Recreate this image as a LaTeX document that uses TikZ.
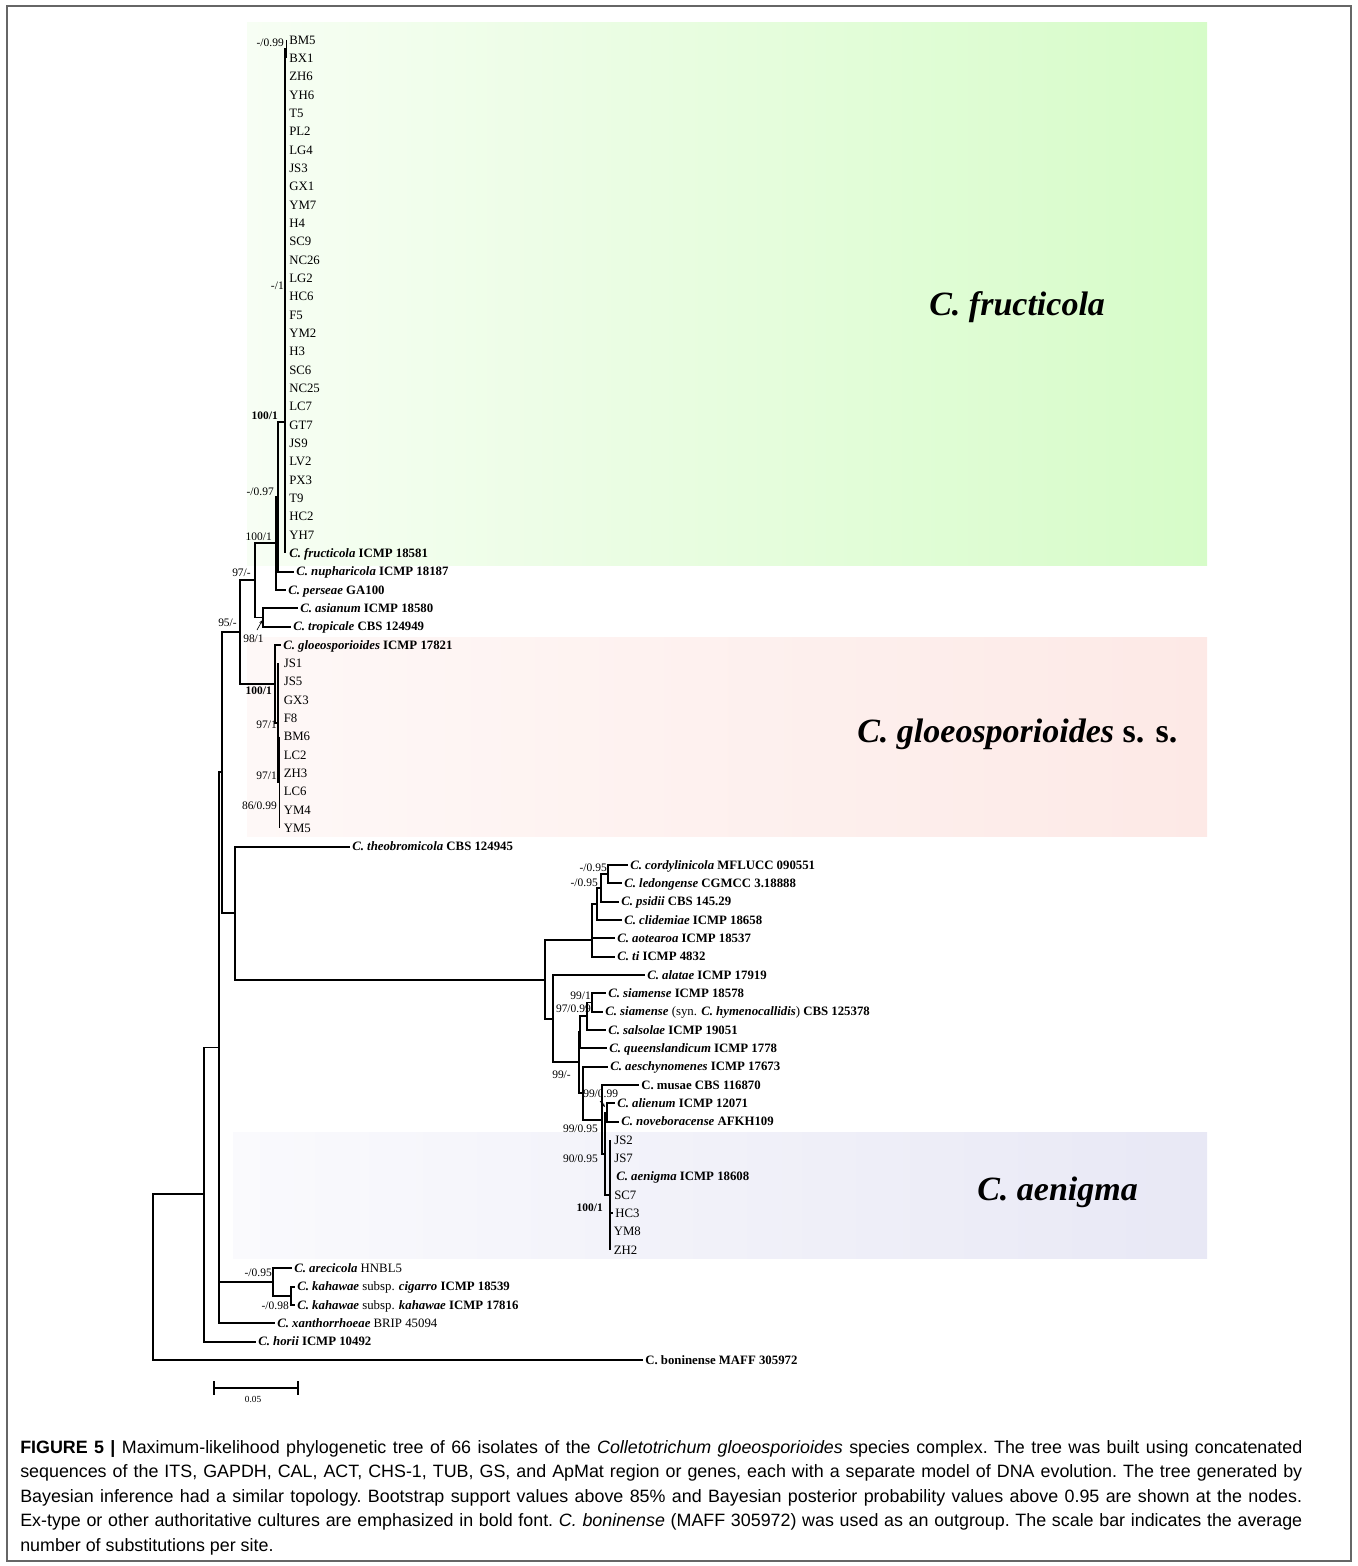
\documentclass[tikz,border=0pt]{standalone}
\usepackage{fontspec}
\setmainfont{Liberation Serif}
\newfontfamily\capfont[FakeStretch=1.0]{Liberation Sans}
\usetikzlibrary{arrows.meta}
\newcommand\bi[1]{\textbf{\textit{#1}}}
\definecolor{gL}{RGB}{247,254,244}
\definecolor{gR}{RGB}{214,252,200}
\definecolor{pL}{RGB}{254,248,247}
\definecolor{pR}{RGB}{253,233,230}
\definecolor{vL}{RGB}{250,250,253}
\definecolor{vR}{RGB}{232,232,245}
\begin{document}
\begin{tikzpicture}[x=0.75pt,y=-0.75pt,
  br/.style={line width=1.25pt, line join=miter},
  leaf/.style={anchor=west, inner xsep=1.5pt, inner ysep=0pt, text height=6.4pt, text depth=0pt, font=\fontsize{9.6}{11}\selectfont},
  lab/.style={anchor=east, inner sep=0pt, text height=6pt, text depth=0pt, font=\fontsize{8.6}{10}\selectfont},
  big/.style={anchor=base west, inner sep=0pt, font=\fontsize{25.5}{30}\selectfont},
  arr/.style={-{Stealth[length=3pt,width=2.5pt]}, line width=0.5pt}]
\useasboundingbox (0,0) rectangle (1357,1566);
\draw[black!60, line width=0.8pt] (7,6) rectangle (1351,1561);

% clade boxes
\shade[left color=gL, right color=gR] (247,23) rectangle (1207,565);
\shade[left color=pL, right color=pR] (247,637) rectangle (1207,836);
\shade[left color=vL, right color=vR] (233,1132) rectangle (1207,1258);

\node[big] (Lfr) at (929,315) {\bi{C. fructicola}};
\node[big] (Lgl) at (857,742) {\bi{C. gloeosporioides} \textbf{s. s.}};
\node[big] (Lae) at (977,1200) {\bi{C. aenigma}};

% ---------- leaves ----------
\foreach \n [count=\i from 0] in {BM5,BX1,ZH6,YH6,T5,PL2,LG4,JS3,GX1,YM7,H4,SC9,NC26,LG2,HC6,F5,YM2,H3,SC6,NC25,LC7,GT7,JS9,LV2,PX3,T9,HC2,YH7}
  \node[leaf] (f\i) at (287,{40+18.333*\i}) {\n};
\node[leaf] (fr) at (287,553.3) {\bi{C. fructicola} \textbf{ICMP 18581}};
\node[leaf] (nu) at (294,571.7) {\bi{C. nupharicola} \textbf{ICMP 18187}};
\node[leaf] (pe) at (286,590) {\bi{C. perseae} \textbf{GA100}};
\node[leaf] (as) at (298,608.3) {\bi{C. asianum} \textbf{ICMP 18580}};
\node[leaf] (tr) at (291,626.7) {\bi{C. tropicale} \textbf{CBS 124949}};
\node[leaf] (gl) at (281,645) {\bi{C. gloeosporioides} \textbf{ICMP 17821}};
\foreach \n [count=\i from 0] in {JS1,JS5,GX3,F8,BM6,LC2,ZH3,LC6,YM4,YM5}
  \node[leaf] (g\i) at (281.5,{663.3+18.333*\i}) {\n};
\node[leaf] (th) at (350,846.7) {\bi{C. theobromicola} \textbf{CBS 124945}};
\node[leaf] (cord) at (628,865) {\bi{C. cordylinicola} \textbf{MFLUCC 090551}};
\node[leaf] (led) at (622,883.3) {\bi{C. ledongense} \textbf{CGMCC 3.18888}};
\node[leaf] (psi) at (619,901.7) {\bi{C. psidii} \textbf{CBS 145.29}};
\node[leaf] (cli) at (622,920) {\bi{C. clidemiae} \textbf{ICMP 18658}};
\node[leaf] (aot) at (615,938.3) {\bi{C. aotearoa} \textbf{ICMP 18537}};
\node[leaf] (ti) at (615,956.7) {\bi{C. ti} \textbf{ICMP 4832}};
\node[leaf] (ala) at (645,975) {\bi{C. alatae} \textbf{ICMP 17919}};
\node[leaf] (si1) at (606,993.3) {\bi{C. siamense} \textbf{ICMP 18578}};
\node[leaf] (si2) at (603,1011.7) {\bi{C. siamense} (syn. \bi{C. hymenocallidis}) \textbf{CBS 125378}};
\node[leaf] (sal) at (606,1030) {\bi{C. salsolae} \textbf{ICMP 19051}};
\node[leaf] (que) at (607,1048.3) {\bi{C. queenslandicum} \textbf{ICMP 1778}};
\node[leaf] (aes) at (608,1066.7) {\bi{C. aeschynomenes} \textbf{ICMP 17673}};
\node[leaf] (mus) at (639,1085) {\textbf{C. musae CBS 116870}};
\node[leaf] (ali) at (615,1103.3) {\bi{C. alienum} \textbf{ICMP 12071}};
\node[leaf] (nov) at (619,1121.7) {\bi{C. noveboracense} \textbf{AFKH109}};
\node[leaf] (e0) at (612,1140) {JS2};
\node[leaf] (e1) at (612,1158.3) {JS7};
\node[leaf] (e2) at (614,1176.7) {\bi{C. aenigma} \textbf{ICMP 18608}};
\node[leaf] (e3) at (612,1195) {SC7};
\node[leaf] (e4) at (613,1213.3) {HC3};
\node[leaf] (e5) at (611.5,1231.7) {YM8};
\node[leaf] (e6) at (611.5,1250) {ZH2};
\node[leaf] (are) at (292,1268.3) {\bi{C. arecicola} HNBL5};
\node[leaf] (kc) at (295,1286.7) {\bi{C. kahawae} subsp. \bi{cigarro} \textbf{ICMP 18539}};
\node[leaf] (kk) at (295,1305) {\bi{C. kahawae} subsp. \bi{kahawae} \textbf{ICMP 17816}};
\node[leaf] (xan) at (275,1323.3) {\bi{C. xanthorrhoeae} BRIP 45094};
\node[leaf] (hor) at (256,1341.7) {\bi{C. horii} \textbf{ICMP 10492}};
\node[leaf] (bon) at (643,1360) {\textbf{C. boninense MAFF 305972}};

% ---------- internal nodes ----------
\coordinate (nB0) at (286.5,49);
\coordinate (nF) at (285,422);
\coordinate (nN) at (278,497);
\coordinate (nP) at (276,543);
\coordinate (nAT) at (263,617.5);
\coordinate (nA) at (255,580);
\coordinate (nG2) at (279.5,782.5);
\coordinate (nG1) at (278,723);
\coordinate (nG) at (275,684);
\coordinate (n97) at (240,632);
\coordinate (n95) at (222,772);
\coordinate (nTh) at (235,913);
\coordinate (nB) at (545,980);
\coordinate (c4) at (592,940);
\coordinate (c3) at (597,904);
\coordinate (c2) at (601,888);
\coordinate (c1) at (608,874);
\coordinate (L) at (553,1019);
\coordinate (s4) at (579,1062);
\coordinate (s3) at (580,1032);
\coordinate (s2) at (587,1016);
\coordinate (s1) at (592,1002.5);
\coordinate (a1) at (583,1093);
\coordinate (m3) at (602,1120);
\coordinate (m2) at (605,1154);
\coordinate (m1) at (607,1112.5);
\coordinate (nAe) at (610,1195);
\coordinate (R2) at (219,1047.5);
\coordinate (nK) at (273,1282);
\coordinate (nK2) at (291,1296);
\coordinate (R1) at (204,1194);
\coordinate (root) at (153,1277);

% ---------- branches ----------
% fructicola clade: zero-length tips on one vertical
\draw[br] (nF |- f2.west) -- (nF |- fr.west);
\draw[br] (nF) |- (nB0);
\draw[br] (nB0 |- f0.west) -- (nB0 |- f1.west);
\draw[br] (nN) |- (nF);
\draw[br] (nN) |- (nu.west);
\draw[br] (nP) |- (nN);
\draw[br] (nP) |- (pe.west);
\draw[br] (nAT) |- (as.west);
\draw[br] (nAT) |- (tr.west);
\draw[br] (nA) |- (nP);
\draw[br] (nA) |- (nAT);
\draw[br] (nG2 |- g4.west) -- (nG2 |- g9.west);
\draw[br] (nG1 |- g0.west) -- (nG1);
\draw[br] (nG1) |- (nG2);
\draw[br] (nG) |- (gl.west);
\draw[br] (nG) |- (nG1);
\draw[br] (n97) |- (nA);
\draw[br] (n97) |- (nG);
\draw[br] (n95) |- (n97);
\draw[br] (n95) |- (nTh);
\draw[br] (nTh) |- (th.west);
\draw[br] (nTh) |- (nB);
\draw[br] (nB) |- (c4);
\draw[br] (nB) |- (L);
\draw[br] (c4) |- (c3);
\draw[br] (c4) |- (aot.west);
\draw[br] (c4) |- (ti.west);
\draw[br] (c3) |- (c2);
\draw[br] (c3) |- (cli.west);
\draw[br] (c2) |- (c1);
\draw[br] (c2) |- (psi.west);
\draw[br] (c1) |- (cord.west);
\draw[br] (c1) |- (led.west);
\draw[br] (L) |- (ala.west);
\draw[br] (L) |- (s4);
\draw[br] (s4) |- (s3);
\draw[br] (s4) |- (a1);
\draw[br] (s3) |- (s2);
\draw[br] (s3) |- (que.west);
\draw[br] (s2) |- (s1);
\draw[br] (s2) |- (sal.west);
\draw[br] (s1) |- (si1.west);
\draw[br] (s1) |- (si2.west);
\draw[br] (a1) |- (aes.west);
\draw[br] (a1) |- (m3);
\draw[br] (m3) |- (mus.west);
\draw[br] (m3) |- (m2);
\draw[br] (m2) |- (m1);
\draw[br] (m2) |- (nAe);
\draw[br] (m1) |- (ali.west);
\draw[br] (m1) |- (nov.west);
\draw[br] (nAe |- e0.west) -- (nAe |- e6.west);
\draw[br] (nAe) |- (e4.west);
\draw[br] (R2) |- (n95);
\draw[br] (R2) |- (nK);
\draw[br] (R2) |- (xan.west);
\draw[br] (nK) |- (are.west);
\draw[br] (nK) |- (nK2);
\draw[br] (nK2) |- (kc.west);
\draw[br] (nK2) |- (kk.west);
\draw[br] (R1) |- (R2);
\draw[br] (R1) |- (hor.west);
\draw[br] (root) |- (R1);
\draw[br] (root) |- (bon.west);

% ---------- support values ----------
\node[lab] (v1) at (284,43) {-/0.99};
\node[lab] (v2) at (284,285) {-/1};
\node[lab] (v3) at (278,415) {\textbf{100/1}};
\node[lab] (v4) at (274,491) {-/0.97};
\node[lab] (v5) at (272,536) {100/1};
\node[lab] (v6) at (251,572) {97/-};
\node[lab] (v7) at (237,622) {95/-};
\node[lab,anchor=west] (v8) at (243,638) {98/1};
\coordinate (a98s) at (257,630);
\coordinate (a98e) at (262.5,620);
\draw[arr] (a98s) -- (a98e);
\node[lab] (v9) at (272,690) {\textbf{100/1}};
\node[lab] (v10) at (277,724) {97/1};
\node[lab] (v11) at (277,775) {97/1};
\node[lab] (v12) at (277,805) {86/0.99};
\node[lab] (v13) at (607,867) {-/0.95};
\node[lab] (v14) at (598,882) {-/0.95};
\node[lab] (v15) at (591,995) {99/1};
\node[lab] (v16) at (591,1008) {97/0.99};
\node[lab] (v17) at (571,1074) {99/-};
\node[lab,anchor=west] (v18) at (583,1093) {99/0.99};
\coordinate (a99s) at (600,1101);
\coordinate (a99e) at (605,1107);
\draw[arr] (a99s) -- (a99e);
\node[lab] (v19) at (598,1128) {99/0.95};
\node[lab] (v20) at (598,1158) {90/0.95};
\node[lab] (v21) at (603,1207) {\textbf{100/1}};
\node[lab] (v22) at (272,1272) {-/0.95};
\node[lab] (v23) at (289,1305) {-/0.98};

% ---------- scale bar ----------
\coordinate (sb1) at (214,1388);
\coordinate (sb2) at (298,1388);
\draw[line width=1pt] (sb1) -- (sb2);
\draw[line width=1pt] ([yshift=-5]sb1) -- ([yshift=5]sb1);
\draw[line width=1pt] ([yshift=-5]sb2) -- ([yshift=5]sb2);
\node[inner sep=0pt, font=\fontsize{7}{8}\selectfont] (sbl) at (253,1399) {0.05};

% ---------- caption ----------
\node[anchor=north west, inner sep=0pt, text width=961.5pt, align=justify,
      font=\capfont\fontsize{13.4}{18.4}\selectfont\frenchspacing] (cap) at (20,1440)
{\textbf{FIGURE 5 |} Maximum-likelihood phylogenetic tree of 66 isolates of the \textit{Colletotrichum gloeosporioides} species complex. The tree was built using concatenated\linebreak
sequences of the ITS, GAPDH, CAL, ACT, CHS-1, TUB, GS, and ApMat region or genes, each with a separate model of DNA evolution. The tree generated by\linebreak
Bayesian inference had a similar topology. Bootstrap support values above 85\% and Bayesian posterior probability values above 0.95 are shown at the nodes.\linebreak
Ex-type or other authoritative cultures are emphasized in bold font. \textit{C. boninense} (MAFF 305972) was used as an outgroup. The scale bar indicates the average\linebreak
number of substitutions per site.};
\end{tikzpicture}
\end{document}
